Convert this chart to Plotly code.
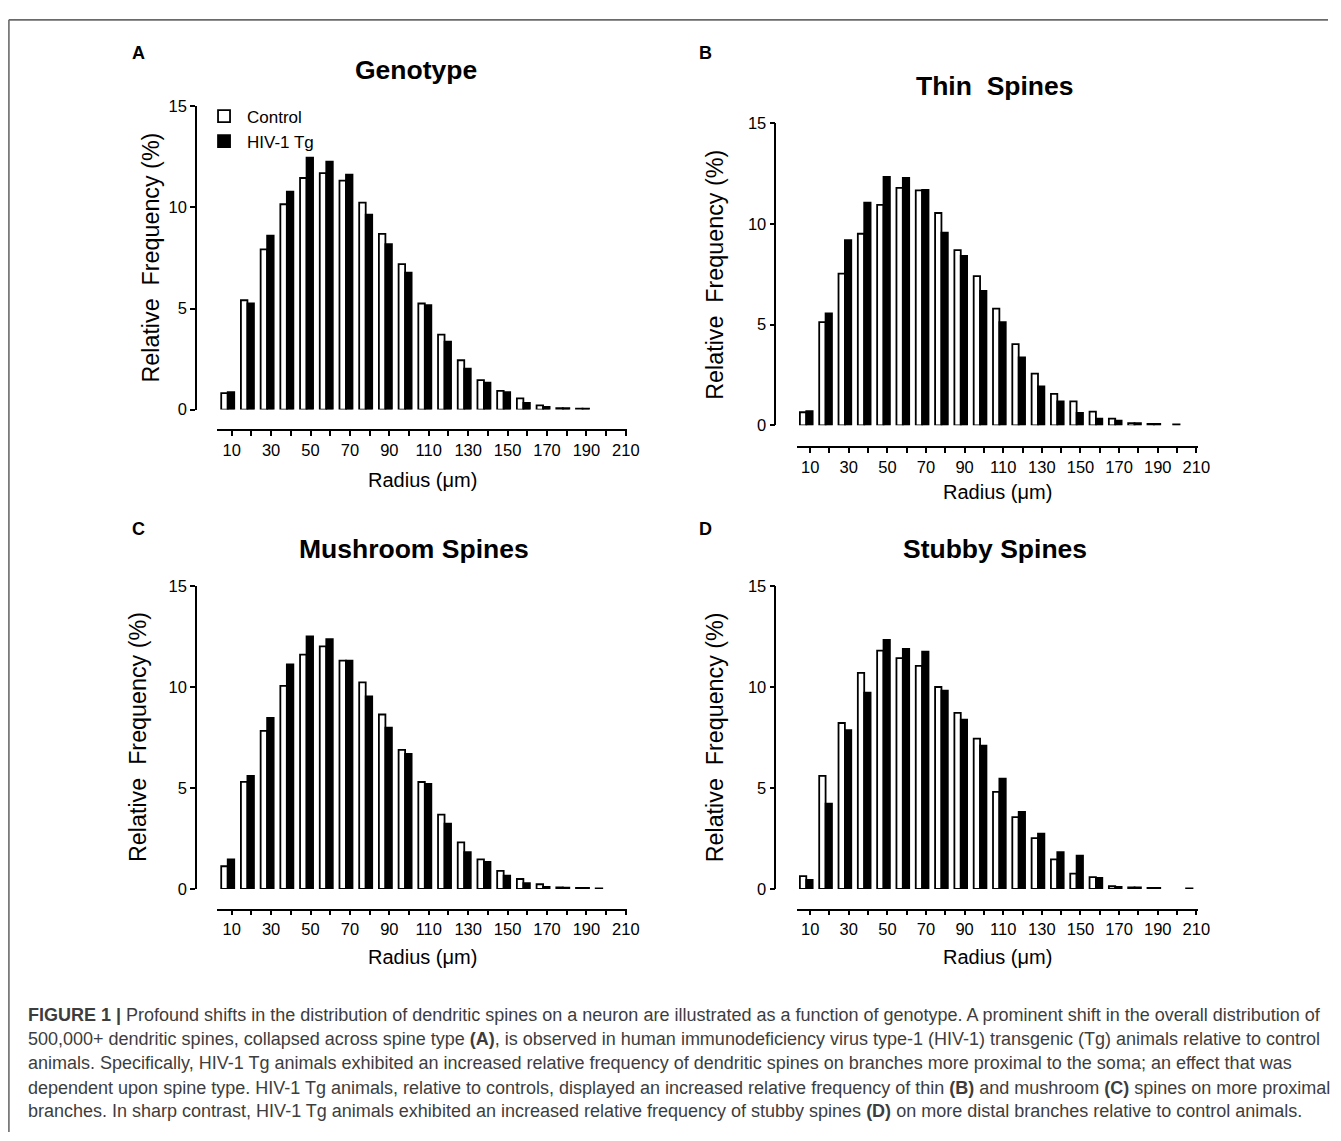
import plotly.graph_objects as go

# ---------------- data ----------------
radius = [10, 20, 30, 40, 50, 60, 70, 80, 90, 100, 110, 120, 130, 140, 150, 160, 170, 180, 190, 200, 210]
tick_labels = ["10", "", "30", "", "50", "", "70", "", "90", "", "110", "", "130", "", "150", "", "170", "", "190", "", "210"]

genotype_control = [0.81, 5.41, 7.93, 10.16, 11.46, 11.70, 11.33, 10.24, 8.69, 7.20, 5.25, 3.71, 2.44, 1.46, 0.93, 0.55, 0.21, 0.07, 0.04, None, None]
genotype_hiv = [0.86, 5.25, 8.61, 10.78, 12.47, 12.27, 11.62, 9.64, 8.19, 6.78, 5.17, 3.36, 2.02, 1.33, 0.86, 0.33, 0.13, 0.07, 0.04, None, None]

thin_control = [0.65, 5.12, 7.53, 9.51, 10.94, 11.79, 11.66, 10.54, 8.70, 7.41, 5.79, 4.03, 2.57, 1.56, 1.19, 0.68, 0.33, 0.11, 0.07, None, None]
thin_hiv = [0.70, 5.56, 9.19, 11.06, 12.33, 12.28, 11.69, 9.56, 8.41, 6.67, 5.12, 3.37, 1.93, 1.19, 0.62, 0.33, 0.23, 0.11, 0.07, 0.05, None]

mushroom_control = [1.12, 5.30, 7.82, 10.05, 11.59, 12.00, 11.30, 10.22, 8.63, 6.88, 5.29, 3.68, 2.30, 1.46, 0.89, 0.49, 0.23, 0.08, 0.05, 0.03, None]
mushroom_hiv = [1.46, 5.59, 8.46, 11.11, 12.49, 12.36, 11.30, 9.52, 7.98, 6.68, 5.19, 3.23, 1.82, 1.33, 0.65, 0.28, 0.10, 0.06, 0.05, None, None]

stubby_control = [0.63, 5.59, 8.21, 10.69, 11.79, 11.42, 11.04, 9.99, 8.71, 7.44, 4.80, 3.55, 2.51, 1.46, 0.76, 0.58, 0.13, 0.08, 0.05, None, 0.03]
stubby_hiv = [0.44, 4.22, 7.86, 9.71, 12.32, 11.87, 11.74, 9.81, 8.38, 7.09, 5.45, 3.81, 2.74, 1.82, 1.64, 0.55, 0.10, 0.08, 0.05, None, None]

panel_letters = ["A", "B", "C", "D"]
panel_titles = ["Genotype", "Thin\u00a0 Spines", "Mushroom Spines", "Stubby Spines"]
series_names = ["Control", "HIV-1 Tg"]
y_title = "Relative\u00a0 Frequency (%)"
x_title = "Radius (\u03bcm)"

caption_lines = [
    "<b>FIGURE 1 |</b> Profound shifts in the distribution of dendritic spines on a neuron are illustrated as a function of genotype. A prominent shift in the overall distribution of",
    "500,000+ dendritic spines, collapsed across spine type <b>(A)</b>, is observed in human immunodeficiency virus type-1 (HIV-1) transgenic (Tg) animals relative to control",
    "animals. Specifically, HIV-1 Tg animals exhibited an increased relative frequency of dendritic spines on branches more proximal to the soma; an effect that was",
    "dependent upon spine type. HIV-1 Tg animals, relative to controls, displayed an increased relative frequency of thin <b>(B)</b> and mushroom <b>(C)</b> spines on more proximal",
    "branches. In sharp contrast, HIV-1 Tg animals exhibited an increased relative frequency of stubby spines <b>(D)</b> on more distal branches relative to control animals.",
]

# ---------------- layout geometry (window pixels) ----------------
W, H = 1341, 1141
FONT = "Arial, 'Liberation Sans', Helvetica, sans-serif"


def fx(x):
    return x / W


def fy(y):
    return 1 - y / H


panels = [
    dict(ctrl=genotype_control, hiv=genotype_hiv, xdom=(219, 633), xr=(2.5, 210.5), xline=428,
         ydom=(407, 99), yline=198, letter=(140, 45), title=(420, 62), ytl=(152, 253), xtl=(427, 479)),
    dict(ctrl=thin_control, hiv=thin_hiv, xdom=(805, 1210), xr=(3.3, 211.0), xline=445,
         ydom=(423, 116), yline=783, letter=(712, 45), title=(1005, 78), ytl=(722, 270), xtl=(1007, 491)),
    dict(ctrl=mushroom_control, hiv=mushroom_hiv, xdom=(219, 633), xr=(2.5, 210.5), xline=915,
         ydom=(894, 586), yline=198, letter=(140, 528), title=(418, 549), ytl=(140, 740), xtl=(427, 963)),
    dict(ctrl=stubby_control, hiv=stubby_hiv, xdom=(805, 1210), xr=(3.3, 211.0), xline=915,
         ydom=(894, 586), yline=783, letter=(712, 528), title=(1005, 549), ytl=(722, 740), xtl=(1007, 963)),
]

fig = go.Figure()
layout = dict(
    width=W, height=H, margin=dict(l=0, r=0, t=0, b=0),
    paper_bgcolor="white", plot_bgcolor="white",
    barmode="overlay", font=dict(family=FONT, color="black"),
    showlegend=True,
    legend=dict(x=fx(203), y=fy(91), xanchor="left", yanchor="top", bgcolor="rgba(0,0,0,0)",
                font=dict(size=17, family=FONT), itemwidth=36, tracegroupgap=4,
                traceorder="normal"),
)
annotations = []
shapes = []


def label(text, x, y, size, angle=0, xanchor="center", color="black"):
    return dict(text=text, x=fx(x), y=fy(y), xref="paper", yref="paper", showarrow=False,
                xanchor=xanchor, yanchor="middle", textangle=angle,
                font=dict(size=size, family=FONT, color=color))


for i, p in enumerate(panels):
    n = "" if i == 0 else str(i + 1)
    xa, ya = "x" + n, "y" + n
    fig.add_trace(go.Bar(
        x=radius, y=p["ctrl"], name=series_names[0], xaxis=xa, yaxis=ya,
        offset=-5.3, width=3.3, marker=dict(color="white", line=dict(color="black", width=1.8)),
        showlegend=(i == 0), legendgroup="c", hoverinfo="x+y"))
    fig.add_trace(go.Bar(
        x=radius, y=p["hiv"], name=series_names[1], xaxis=xa, yaxis=ya,
        offset=-2.0, width=3.3, marker=dict(color="black", line=dict(color="black", width=1.8)),
        showlegend=(i == 0), legendgroup="h", hoverinfo="x+y"))

    layout["xaxis" + n] = dict(
        domain=[fx(p["xdom"][0]), fx(p["xdom"][1])], range=list(p["xr"]),
        anchor="free", position=fy(p["xline"]),
        showline=True, linecolor="black", linewidth=1.6, showgrid=False, zeroline=False,
        tickmode="array", tickvals=radius, ticktext=tick_labels,
        ticks="outside", ticklen=5, tickwidth=1.5, tickcolor="black",
        tickfont=dict(size=16.5, family=FONT, color="black"), fixedrange=True)
    layout["yaxis" + n] = dict(
        domain=[fy(p["ydom"][0]), fy(p["ydom"][1])], range=[0, 15],
        anchor="free", position=fx(p["yline"]),
        showline=True, linecolor="black", linewidth=1.6, showgrid=False, zeroline=False,
        tickmode="array", tickvals=[0, 5, 10, 15],
        ticks="outside", ticklen=5, tickwidth=1.5, tickcolor="black",
        tickfont=dict(size=16.5, family=FONT, color="black"), fixedrange=True)

    annotations.append(label("<b>" + panel_letters[i] + "</b>", *p["letter"], 18))
    annotations.append(label("<b>" + panel_titles[i] + "</b>", *p["title"], 26.5))
    annotations.append(label(y_title, *p["ytl"], 23.3, angle=-90))
    annotations.append(label(x_title, *p["xtl"], 20))

# caption
cap_y = [1022, 1047, 1071, 1096, 1120]
for line, yy in zip(caption_lines, cap_y):
    annotations.append(label(line, 26, yy, 18, xanchor="left", color="#3d3d3d"))

# frame lines
shapes.append(dict(type="line", xref="paper", yref="paper", x0=fx(9), x1=1, y0=fy(11), y1=fy(11),
                   line=dict(color="#6a6a6a", width=1.6)))
shapes.append(dict(type="line", xref="paper", yref="paper", x0=fx(9), x1=fx(9), y0=fy(11), y1=0,
                   line=dict(color="#6a6a6a", width=1.6)))

layout["annotations"] = annotations
layout["shapes"] = shapes
fig.update_layout(**layout)
fig.write_html("out.html", config={"displayModeBar": False})
